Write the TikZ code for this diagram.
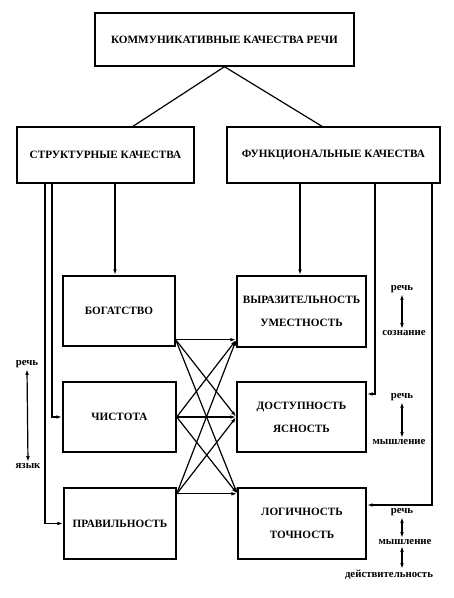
\documentclass[tikz,border=0pt]{standalone}
\usepackage{fontspec}
\setmainfont{Liberation Serif}
\usetikzlibrary{arrows.meta}
\begin{document}
\begin{tikzpicture}[x=1pt,y=-1pt,
  box/.style={draw,line width=1.4pt,font=\bfseries\fontsize{11.2}{13}\selectfont,align=center,inner sep=0pt},
  ann/.style={font=\bfseries\fontsize{10.8}{12}\selectfont,inner sep=1pt},
  ln/.style={line width=1.2pt},
  arr/.style={line width=1.2pt,-{Latex[length=6pt,width=3.6pt]}},
  darr/.style={line width=1.2pt,{Latex[length=6pt,width=3.6pt]}-{Latex[length=6pt,width=3.6pt]}}]
\useasboundingbox (0,0) rectangle (454,598);
\node[box,minimum width=259pt,minimum height=53pt] (top) at (224.5,39.5) {КОММУНИКАТИВНЫЕ КАЧЕСТВА РЕЧИ};
\node[box,minimum width=177pt,minimum height=56pt] (struct) at (105.5,155) {СТРУКТУРНЫЕ КАЧЕСТВА};
\node[box,minimum width=213pt,minimum height=56pt] (func) at (333.5,155) {ФУНКЦИОНАЛЬНЫЕ КАЧЕСТВА};
\node[box,minimum width=112pt,minimum height=70pt] (bog) at (119,311) {БОГАТСТВО};
\node[box,minimum width=129pt,minimum height=71pt] (vyr) at (301.5,311.5) {ВЫРАЗИТЕЛЬНОСТЬ\\[10pt]УМЕСТНОСТЬ};
\node[box,minimum width=113pt,minimum height=70pt] (chist) at (119.5,417) {ЧИСТОТА};
\node[box,minimum width=129pt,minimum height=70pt] (dost) at (301.5,417) {ДОСТУПНОСТЬ\\[10pt]ЯСНОСТЬ};
\node[box,minimum width=112pt,minimum height=71pt] (prav) at (120,523.5) {ПРАВИЛЬНОСТЬ};
\node[box,minimum width=128pt,minimum height=71pt] (log) at (302,523.5) {ЛОГИЧНОСТЬ\\[10pt]ТОЧНОСТЬ};
% top connectors
\draw[ln] (top.south) -- ([xshift=27.5pt]struct.north);
\draw[ln] (top.south) -- ([xshift=-11.5pt]func.north);
% guide coordinates
\coordinate (xa) at (45,0);
\coordinate (xb) at (52,0);
\coordinate (xc) at (115,0);
\coordinate (xd) at (300,0);
\coordinate (xe) at (375,0);
\coordinate (xf) at (432,0);
\draw[arr] (struct.south -| xa) |- (prav.west);
\draw[arr] (struct.south -| xb) |- (chist.west);
\draw[arr] (struct.south -| xc) -- (bog.north -| xc);
\draw[arr] (func.south -| xd) -- (vyr.north -| xd);
\draw[arr] (func.south -| xe) |- ([yshift=23pt]dost.east);
\draw[arr] (func.south -| xf) |- ([yshift=18.5pt]log.east);
% crossing arrows
\coordinate (L1) at ([yshift=7pt]bog.south east);
\coordinate (L2) at (chist.east);
\coordinate (L3) at ([yshift=-6.5pt]prav.north east);
\coordinate (R1) at ([yshift=8pt]vyr.south west);
\coordinate (R2) at (dost.west);
\coordinate (R3) at ([yshift=-6.5pt]log.north west);
\foreach \a in {L1,L2,L3}{
  \foreach \b in {R1,R2,R3}{
    \draw[arr] (\a) -- (\b);
  }
}
% annotations
\node[ann] (lr) at (27,364) {речь};
\node[ann] (ly) at (28,466) {язык};
\draw[darr] (lr.south) -- (ly.north);
\node[ann] (r1a) at (402,289) {речь};
\node[ann] (r1b) at (404,333) {сознание};
\draw[darr] (r1a.south) -- (r1b.north -| r1a.south);
\node[ann] (r2a) at (402,397) {речь};
\node[ann] (r2b) at (399,442) {мышление};
\draw[darr] (r2a.south) -- (r2b.north -| r2a.south);
\node[ann] (r3a) at (402,512) {речь};
\node[ann] (r3b) at (405,542) {мышление};
\node[ann] (r3c) at (389,575) {действительность};
\draw[darr] (r3a.south) -- (r3b.north -| r3a.south);
\draw[darr] (r3b.south -| r3a.south) -- (r3c.north -| r3a.south);
\end{tikzpicture}
\end{document}
